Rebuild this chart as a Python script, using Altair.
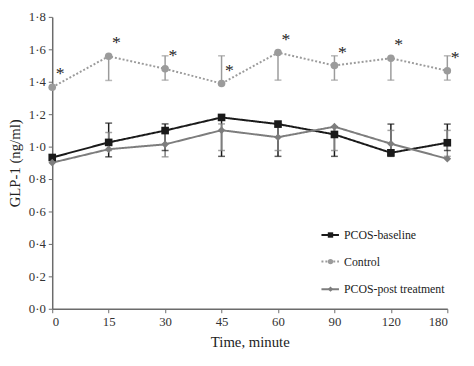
import altair as alt
import pandas as pd

times = ["0", "15", "30", "45", "60", "90", "120", "180"]
series = ["PCOS-baseline", "Control", "PCOS-post treatment"]

baseline = [0.933, 1.026, 1.099, 1.180, 1.139, 1.075, 0.962, 1.024]
control = [1.366, 1.557, 1.480, 1.389, 1.580, 1.500, 1.545, 1.468]
post = [0.901, 0.984, 1.014, 1.101, 1.058, 1.123, 1.018, 0.925]

# error bar ends (low, high)
baseline_lo = [0.933, 0.937, 0.976, 0.940, 0.940, 0.940, 0.940, 0.976]
baseline_hi = [0.933, 1.145, 1.140, 1.180, 1.139, 1.123, 1.139, 1.139]
post_lo = [0.901, 0.976, 0.937, 0.976, 0.976, 0.976, 0.976, 0.940]
post_hi = [0.901, 1.087, 1.100, 1.140, 1.120, 1.123, 1.100, 1.100]
control_lo = [1.366, 1.408, 1.410, 1.389, 1.410, 1.410, 1.410, 1.410]
control_hi = [1.366, 1.557, 1.560, 1.560, 1.580, 1.560, 1.545, 1.560]

y_ticks = [0.0, 0.2, 0.4, 0.6, 0.8, 1.0, 1.2, 1.4, 1.6, 1.8]

colors = ["#1a1a1a", "#9b9b9b", "#7d7d7d"]
err_colors = ["#1a1a1a", "#5a5a5a", "#7d7d7d"]
shapes = ["square", "circle", "diamond"]
dashes = [[1, 0], [2, 2], [1, 0]]

# legend placement (data units)
leg_x1, leg_xm, leg_x2, leg_xl = 4.77, 4.93, 5.08, 5.17
leg_y = [0.455, 0.291, 0.121]

rows, err = [], []
vals = [baseline, control, post]
los = [baseline_lo, control_lo, post_lo]
his = [baseline_hi, control_hi, post_hi]
for s, v, lo, hi in zip(series, vals, los, his):
    for i in range(len(times)):
        rows.append({"series": s, "idx": i, "val": v[i]})
        if hi[i] > lo[i]:
            err.append({"series": s, "idx": i, "lo": lo[i], "hi": hi[i]})
df = pd.DataFrame(rows)
dferr = pd.DataFrame(err)
dfleg = pd.DataFrame({"series": series, "x1": leg_x1, "x2": leg_x2,
                      "xm": leg_xm, "xl": leg_xl, "y": leg_y})

font = "Liberation Serif"
label_expr = "[" + ",".join("'%s'" % t for t in times) + "][datum.value]"

xs = alt.Scale(domain=[0, len(times) - 1], nice=False, zero=False)
ys = alt.Scale(domain=[0, 1.8], nice=False)
cs = alt.Scale(domain=series, range=colors)
ecs = alt.Scale(domain=series, range=err_colors)
ss = alt.Scale(domain=series, range=shapes)
ds = alt.Scale(domain=series, range=dashes)

x_axis = alt.Axis(values=list(range(len(times))), labelExpr=label_expr,
                  labelOverlap=False, title="Time, minute")
y_axis = alt.Axis(values=y_ticks, labelOverlap=False, title="GLP-1 (ng/ml)",
                  labelExpr="replace(format(datum.value, '.1f'), '.', '·')")


def X(f):
    return alt.X(f, scale=xs, axis=x_axis)


def Y(f):
    return alt.Y(f, scale=ys, axis=y_axis)


base = alt.Chart(df)

lines = base.mark_line(strokeWidth=2).encode(
    x=X("idx:Q"), y=Y("val:Q"),
    color=alt.Color("series:N", scale=cs, legend=None),
    strokeDash=alt.StrokeDash("series:N", scale=ds, legend=None),
    detail="series:N")
err_rule = alt.Chart(dferr).mark_rule(strokeWidth=1.5).encode(
    x=X("idx:Q"), y=Y("lo:Q"), y2="hi:Q",
    color=alt.Color("series:N", scale=ecs, legend=None))
cap_lo = alt.Chart(dferr).mark_tick(orient="horizontal", size=7, thickness=1.5).encode(
    x=X("idx:Q"), y=Y("lo:Q"),
    color=alt.Color("series:N", scale=ecs, legend=None))
cap_hi = alt.Chart(dferr).mark_tick(orient="horizontal", size=7, thickness=1.5).encode(
    x=X("idx:Q"), y=Y("hi:Q"),
    color=alt.Color("series:N", scale=ecs, legend=None))
points = base.mark_point(filled=True, size=60, opacity=1).encode(
    x=X("idx:Q"), y=Y("val:Q"),
    color=alt.Color("series:N", scale=cs, legend=None),
    shape=alt.Shape("series:N", scale=ss, legend=None))
stars = base.transform_filter(alt.datum.series == "Control").mark_text(
    text="*", font=font, fontSize=18, dx=8, dy=-4, color="#222", baseline="bottom").encode(
    x=X("idx:Q"), y=Y("val:Q"))

leg_line = alt.Chart(dfleg).mark_rule(strokeWidth=2).encode(
    x=X("x1:Q"), x2="x2:Q", y=Y("y:Q"),
    color=alt.Color("series:N", scale=cs, legend=None),
    strokeDash=alt.StrokeDash("series:N", scale=ds, legend=None))
leg_pt = alt.Chart(dfleg).mark_point(filled=True, size=30, opacity=1).encode(
    x=X("xm:Q"), y=Y("y:Q"),
    color=alt.Color("series:N", scale=cs, legend=None),
    shape=alt.Shape("series:N", scale=ss, legend=None))
leg_txt = alt.Chart(dfleg).mark_text(align="left", baseline="middle", font=font,
                                     fontSize=12, color="#222").encode(
    x=X("xl:Q"), y=Y("y:Q"), text="series:N")

chart = alt.layer(lines, err_rule, cap_lo, cap_hi, points, stars,
                  leg_line, leg_pt, leg_txt).properties(
    width=402, height=297,
    autosize=alt.AutoSizeParams(type="none"),
    padding={"left": 45, "top": 6, "right": 19, "bottom": 45},
).configure_view(stroke=None).configure_axis(
    grid=False, domainColor="#6b6b6b", domainWidth=1.5, tickColor="#6b6b6b",
    tickSize=4, labelFont=font, labelFontSize=13, labelColor="#333",
    labelOverlap=False,
    titleFont=font, titleFontSize=15, titleFontWeight="normal", titleColor="#222",
).configure_axisY(titlePadding=6, labelPadding=3).configure_axisX(titlePadding=6, labelPadding=3)

chart.save("out.html", embed_options={"renderer": "svg", "actions": False})
